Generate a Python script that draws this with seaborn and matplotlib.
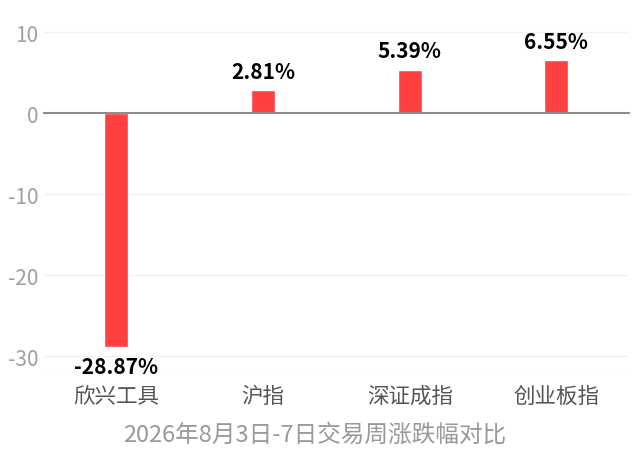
import matplotlib
matplotlib.use("Agg")
import matplotlib.pyplot as plt
import seaborn as sns
import pandas as pd

# 数据
categories = ['欣兴工具', '沪指', '深证成指', '创业板指']
changes = [-28.87, 2.81, 5.39, 6.55]
y_ticks = [10, 0, -10, -20, -30]
title_text = '2026年8月3日-7日交易周涨跌幅对比'

sns.set_theme(style='white')
plt.rcParams['font.family'] = ['Noto Sans CJK SC', 'DejaVu Sans']
plt.rcParams['axes.unicode_minus'] = False

df = pd.DataFrame({'name': categories, 'change': changes})

fig = plt.figure(figsize=(6.4, 4.56), dpi=100)
ax = fig.add_axes([0.067, 0.186, 0.917, 0.759])

sns.barplot(data=df, x='name', y='change', color='#FF4040', width=0.164,
            saturation=1, ax=ax, zorder=3)

ax.set_xlim(-0.5, 3.5)
ax.set_ylim(-31.7, 11.0)
ax.set_yticks(y_ticks)
ax.set_yticklabels([str(t) for t in y_ticks])

for t in y_ticks:
    if t != 0:
        ax.axhline(t, color='#f2f2f2', lw=1, zorder=1)
ax.axhline(-31.7, color='#f2f2f2', lw=1, zorder=1)
ax.axhline(0, color='#8c8c8c', lw=1.5, zorder=4)

for i, v in enumerate(changes):
    if v >= 0:
        ax.text(i, v + 1.0, f'{v:.2f}%', ha='center', va='bottom',
                fontsize=15, fontweight='bold', color='black')
    else:
        ax.text(i, v - 1.1, f'{v:.2f}%', ha='center', va='top',
                fontsize=15, fontweight='bold', color='black')

for s in ax.spines.values():
    s.set_visible(False)
ax.tick_params(axis='y', length=0, labelsize=15, colors='#a0a0a0', pad=3)
ax.tick_params(axis='x', length=0, labelsize=15.5, colors='#555555', pad=10.5)
ax.set_xlabel('')
ax.set_ylabel('')
fig.text(0.492, 0.046, title_text, ha='center', va='center',
         fontsize=17, color='#999999')

fig.savefig('out.png', dpi=100)
